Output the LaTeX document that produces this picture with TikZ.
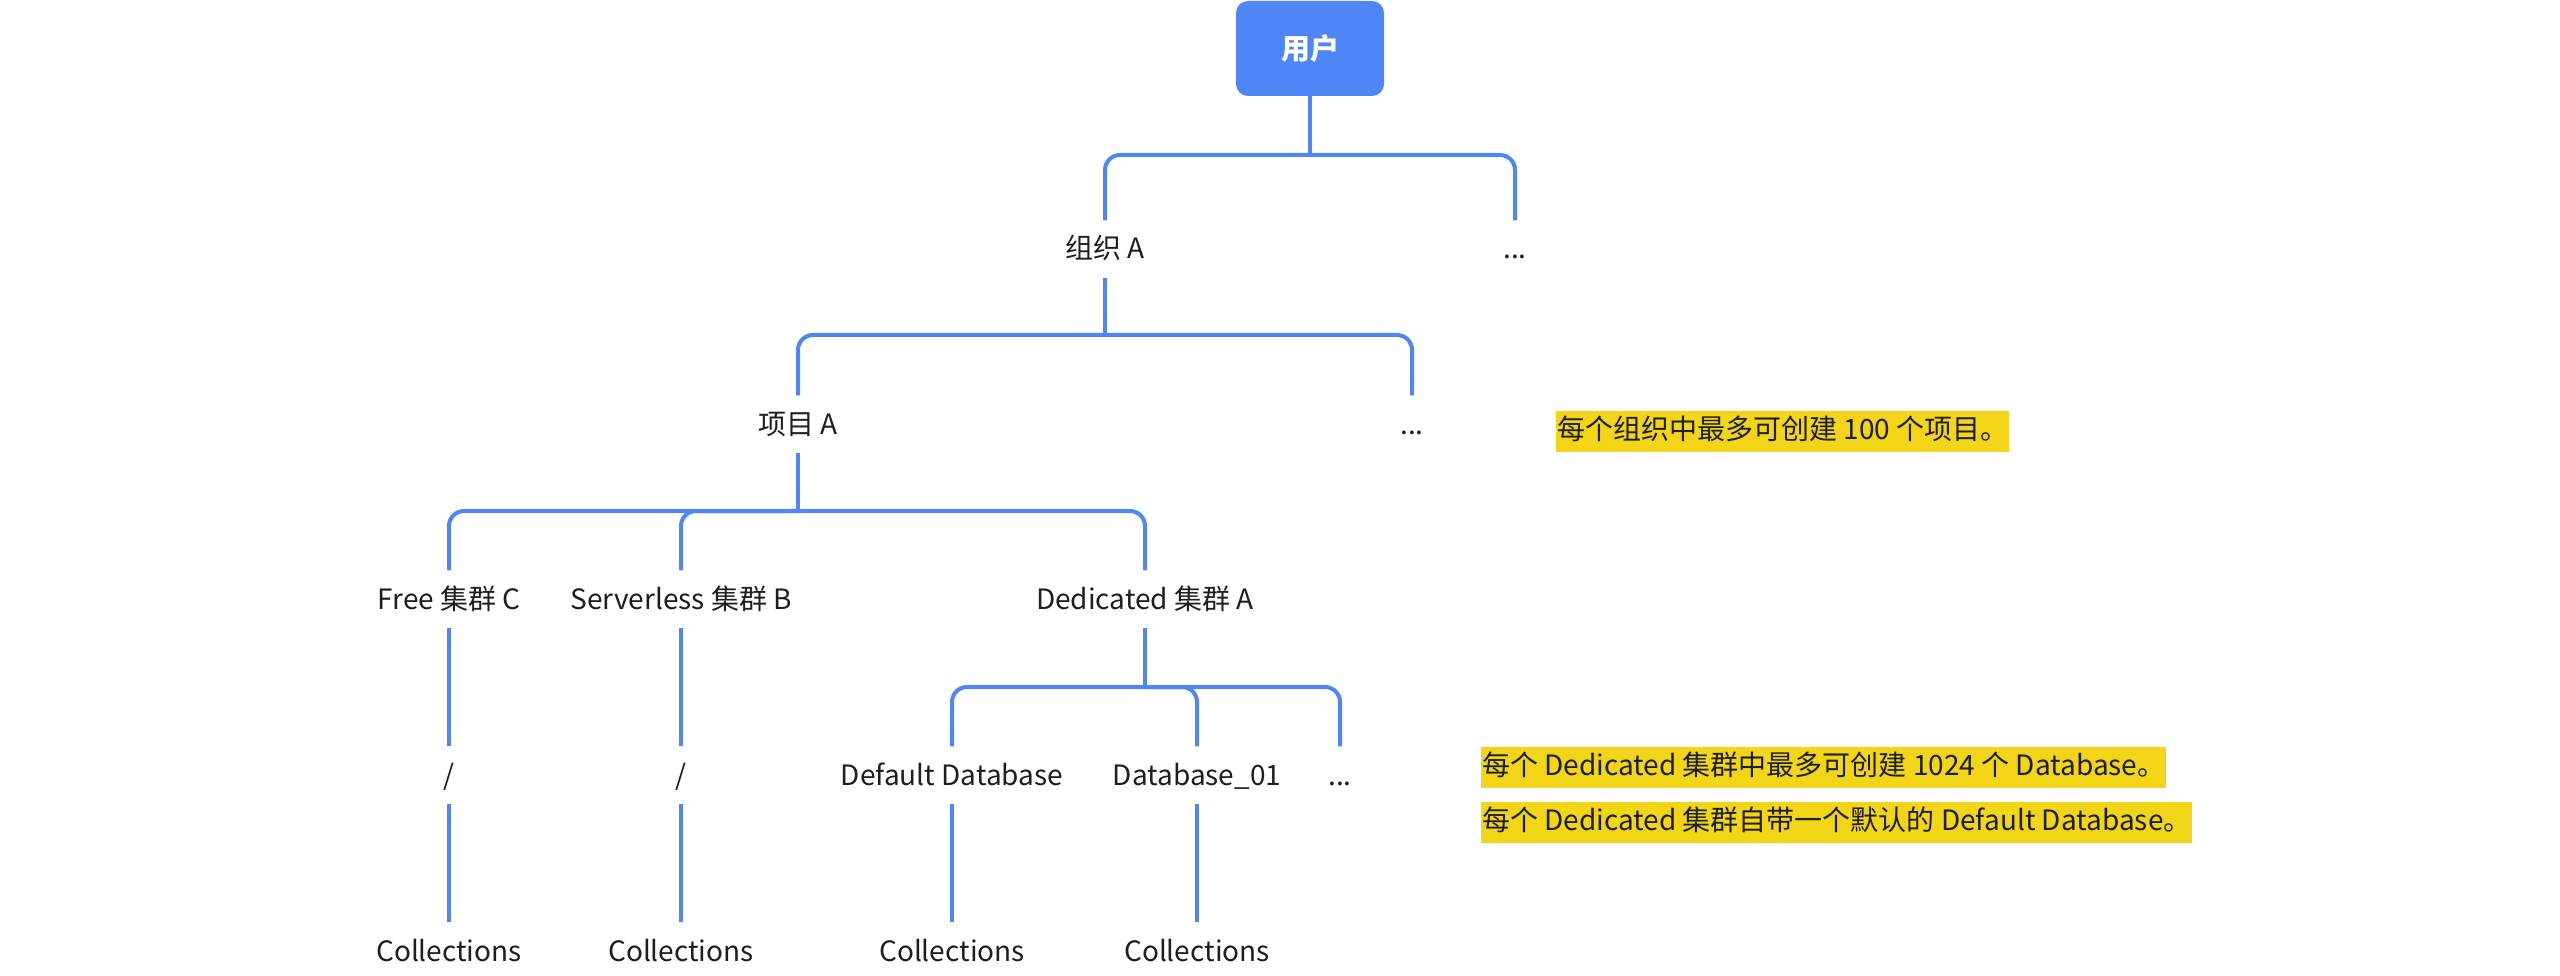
\documentclass[tikz,border=0pt]{standalone}
\usepackage{fontspec}
\setmainfont{Noto Sans CJK SC}
\definecolor{mblue}{RGB}{79,134,247}
\definecolor{myellow}{RGB}{241,213,22}
\definecolor{mtext}{RGB}{30,30,30}
\begin{document}
\begin{tikzpicture}[x=1pt,y=-1pt,
  lbl/.style={inner sep=0pt, minimum height=57pt, text height=22pt, text depth=2pt, font=\fontsize{28}{30}\selectfont, text=mtext},
  conn/.style={draw=mblue, line width=4pt, rounded corners=15pt},
  note/.style={anchor=west, fill=myellow, inner xsep=1pt, inner ysep=0pt, minimum height=41pt, text height=22pt, text depth=6pt, font=\fontsize{28}{30}\selectfont, text=mtext},
  userbox/.style={fill=mblue, rounded corners=12pt, minimum width=148pt, minimum height=95pt, inner sep=0pt, text=white, font=\fontsize{29}{30}\selectfont\bfseries}
]
\useasboundingbox (0,0) rectangle (2560,976);

\node[userbox] (user) at (1310,48.5) {用户};

\node[lbl] (orgA) at (1105,249) {组织 A};
\node[lbl] (orgD) at (1515,249) {...};

\node[lbl] (projA) at (798,424) {项目 A};
\node[lbl] (projD) at (1412,424) {...};

\node[lbl] (free) at (449,599) {Free 集群 C};
\node[lbl] (serv) at (681,599) {Serverless 集群 B};
\node[lbl] (ded) at (1145,599) {Dedicated 集群 A};

\node[lbl] (s1) at (449,775) {/};
\node[lbl] (s2) at (681,775) {/};
\node[lbl] (defdb) at (952,775) {Default Database};
\node[lbl] (db01) at (1197,775) {Database\_01};
\node[lbl] (dbD) at (1340,775) {...};

\node[lbl] (c1) at (449,951) {Collections};
\node[lbl] (c2) at (681,951) {Collections};
\node[lbl] (c3) at (952,951) {Collections};
\node[lbl] (c4) at (1197,951) {Collections};

\node[note] (n1) at (1556,431) {每个组织中最多可创建 100 个项目。};
\node[note] (n2) at (1481,767) {每个 Dedicated 集群中最多可创建 1024 个 Database。};
\node[note] (n3) at (1481,822) {每个 Dedicated 集群自带一个默认的 Default Database。};

\coordinate (b1) at (1310,155);
\coordinate (b2) at (1105,335);
\coordinate (b3) at (798,511);
\coordinate (b4) at (1145,687);

\draw[conn] (user.south) -- (b1);
\draw[conn] (b1) -| (orgA.north);
\draw[conn] (b1) -| (orgD.north);

\draw[conn] (orgA.south) -- (b2);
\draw[conn] (b2) -| (projA.north);
\draw[conn] (b2) -| (projD.north);

\draw[conn] (projA.south) -- (b3);
\draw[conn] (b3) -| (free.north);
\draw[conn] (b3) -| (serv.north);
\draw[conn] (b3) -| (ded.north);

\draw[conn] (ded.south) -- (b4);
\draw[conn] (b4) -| (defdb.north);
\draw[conn] (b4) -| (db01.north);
\draw[conn] (b4) -| (dbD.north);

\draw[conn] (free.south) -- (s1.north);
\draw[conn] (serv.south) -- (s2.north);
\draw[conn] (s1.south) -- (c1.north);
\draw[conn] (s2.south) -- (c2.north);
\draw[conn] (defdb.south) -- (c3.north);
\draw[conn] (db01.south) -- (c4.north);
\end{tikzpicture}
\end{document}
